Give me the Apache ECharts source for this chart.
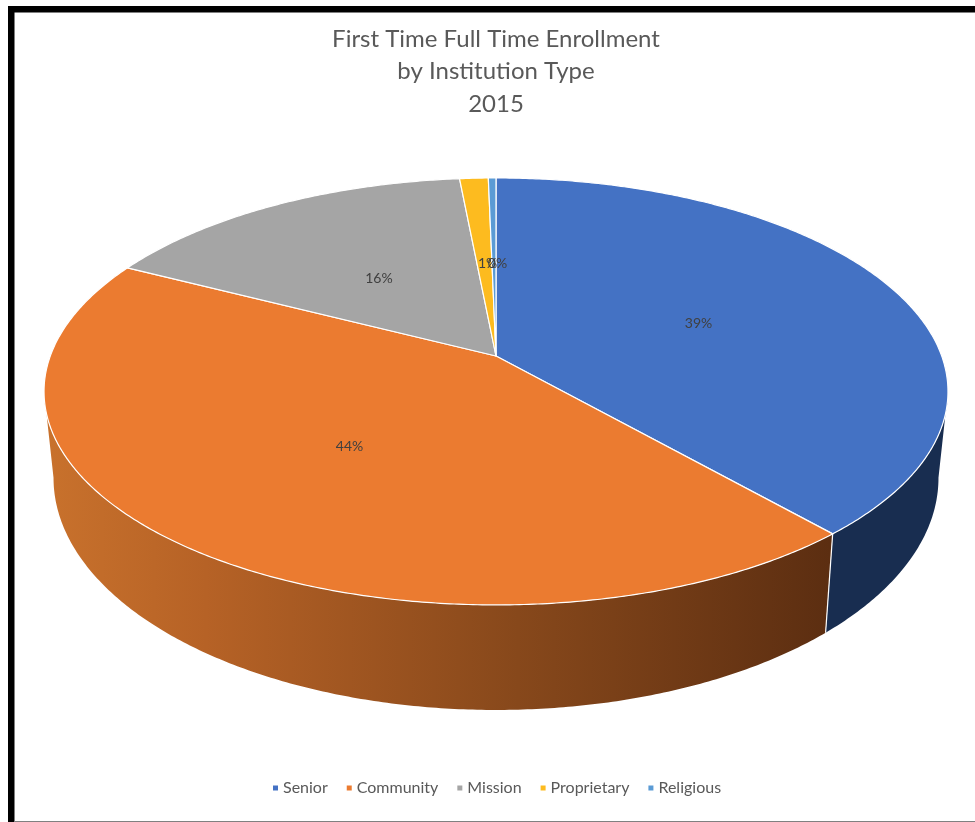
<!DOCTYPE html>
<html>
<head>
<meta charset="utf-8">
<style>html,body{margin:0;padding:0;background:#fff}#c{width:975px;height:822px}</style>
<script src="https://cdn.jsdelivr.net/npm/echarts@6/dist/echarts.min.js"></script>
</head>
<body>
<div id="c"></div>
<script>
const categories = ['Senior', 'Community', 'Mission', 'Proprietary', 'Religious'];
const values = [38.5, 44.05, 15.93, 1.2, 0.32];
const percentLabels = ['39%', '44%', '16%', '1%', '0%'];
const topColors = ['#4472c4', '#eb7b30', '#a5a5a5', '#fdbb1f', '#5b9bd5'];
const labelShiftX = [0, 0, 0, 3.5, 3.5];

const cx = 496, cy = 356, R = 445.7, S = 207.6, P = 0.166;
const total = values.reduce((a, b) => a + b, 0);
const rad = d => d * Math.PI / 180;

function topPoint(deg, r) {
  const u = r * Math.sin(rad(deg)), v = r * Math.cos(rad(deg)), w = 1 + P * v;
  return [cx + R * u / w, cy - S * v / w];
}
function basePoint(deg) {
  const p = topPoint(deg, 1);
  return [cx + (p[0] - cx) * 0.979, p[1] * 1.087 + 52.4];
}
function arc(a, b, fn) {
  const n = Math.max(2, Math.ceil(Math.abs(b - a) * 2)), out = [];
  for (let i = 0; i <= n; i++) out.push(fn(a + (b - a) * i / n));
  return out;
}
const wallFills = [
  '#182d50',
  { type: 'linear', global: true, x: 50, y: 0, x2: 830, y2: 0,
    colorStops: [{ offset: 0, color: '#c8712c' }, { offset: 0.2, color: '#b66226' },
                 { offset: 0.6, color: '#87481b' }, { offset: 1, color: '#5c2e11' }] }
];

function makeSeries(name, i) {
  const startPct = values.slice(0, i).reduce((a, b) => a + b, 0);
  return {
    type: 'custom',
    name: name,
    coordinateSystem: 'none',
    silent: true,
    animation: false,
    itemStyle: { color: topColors[i] },
    data: [[values[i]]],
    renderItem: function (params, api) {
      const a0 = startPct / total * 360;
      const a1 = (startPct + api.value(0)) / total * 360;
      const children = [];
      const w0 = Math.max(a0, 99.5), w1 = Math.min(a1, 260.5);
      if (w1 > w0) {
        const pts = arc(w0, w1, d => topPoint(d, 1)).concat(arc(w1, w0, basePoint));
        children.push({ type: 'polygon', z2: 1, shape: { points: pts }, style: { fill: wallFills[i] || topColors[i] } });
        if (a0 >= 99.5) {
          const p = topPoint(a0, 1), q = basePoint(a0);
          children.push({ type: 'line', z2: 2, shape: { x1: p[0], y1: p[1], x2: q[0], y2: q[1] }, style: { stroke: '#ffffff', lineWidth: 1.2 } });
        }
      }
      const face = [topPoint(0, 0)].concat(arc(a0, a1, d => topPoint(d, 1)));
      children.push({ type: 'polygon', z2: 3, shape: { points: face }, style: { fill: topColors[i], stroke: '#ffffff', lineWidth: 1.2, lineJoin: 'round' } });
      const m = topPoint((a0 + a1) / 2, 0.5);
      children.push({ type: 'text', z2: 10, style: { x: m[0] + labelShiftX[i], y: m[1] + 3, text: percentLabels[i], fill: '#404040', font: '14px Lato', align: 'center', verticalAlign: 'middle' } });
      return { type: 'group', children: children };
    }
  };
}

const chart = echarts.init(document.getElementById('c'), null, { renderer: 'canvas' });
chart.setOption({
  animation: false,
  backgroundColor: '#ffffff',
  title: {
    text: 'First Time Full Time Enrollment\nby Institution Type\n2015',
    left: 491, top: 18, textAlign: 'center',
    textStyle: { fontFamily: 'Lato', fontSize: 24, fontWeight: 'normal', color: '#595959', lineHeight: 32.5 }
  },
  legend: {
    data: categories, top: 775, left: 268, itemWidth: 5, itemHeight: 5, itemGap: 19,
    icon: 'rect', selectedMode: false,
    textStyle: { fontFamily: 'Lato', fontSize: 16, color: '#595959' }
  },
  graphic: [
    { type: 'rect', shape: { x: 8, y: 6, width: 967, height: 6.5 }, style: { fill: '#000' }, z: 100 },
    { type: 'rect', shape: { x: 8, y: 6, width: 6.5, height: 816 }, style: { fill: '#000' }, z: 100 },
    { type: 'rect', shape: { x: 14, y: 821, width: 961, height: 1 }, style: { fill: '#808080' }, z: 100 }
  ],
  series: categories.map(makeSeries)
});
</script>
</body>
</html>
